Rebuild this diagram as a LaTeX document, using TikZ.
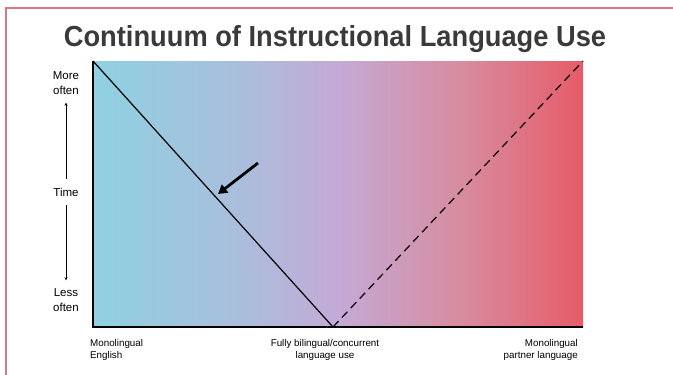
\documentclass[tikz,border=0pt]{standalone}
\usepackage{fontspec}
\setmainfont{Liberation Sans}
\usetikzlibrary{arrows.meta, positioning}
\definecolor{framered}{HTML}{DC7880}
\definecolor{titlegray}{HTML}{3A3A3A}
\pgfdeclarehorizontalshading{continuum}{100bp}{
  color(0bp)=(rgb,255:red,143;green,209;blue,225);
  color(25bp)=(rgb,255:red,143;green,209;blue,225);
  color(40bp)=(rgb,255:red,170;green,190;blue,220);
  color(50bp)=(rgb,255:red,196;green,170;blue,214);
  color(62.5bp)=(rgb,255:red,215;green,140;blue,160);
  color(75bp)=(rgb,255:red,230;green,92;blue,104);
  color(100bp)=(rgb,255:red,230;green,92;blue,104)}
\tikzset{axislabel/.style={align=center,inner sep=1pt,font=\fontsize{11.5}{15}\selectfont},
  endlabel/.style={inner sep=0pt,font=\fontsize{9.8}{12}\selectfont},
  timeline/.style={-{Stealth[length=3pt,width=3pt]},semithick,shorten <=8pt,shorten >=7pt}}

\begin{document}
\begin{tikzpicture}[x=1pt,y=-1pt]
\useasboundingbox (0,0) rectangle (673,375);
% frame
\draw[framered,line width=1.2pt] (6,375) -- (6,8) -- (673,8);
\node[font=\bfseries\fontsize{29}{32}\selectfont,text=titlegray] (title) at (335,39) {\scalebox{0.94}[1]{Continuum of Instructional Language Use}};
% plot area
\coordinate (tl) at (93,61);
\coordinate (bl) at (93,327);
\coordinate (mid) at (333,327);
\coordinate (br) at (583,327);
\coordinate (tr) at (583,61);
\shade[shading=continuum] (tl) rectangle (br);
\draw[line width=1.6pt] (tl) -- (bl) -- (br);
\draw[line width=1.2pt] (tl) -- (mid);
\draw[line width=1.2pt,dash pattern=on 8pt off 5pt] (mid) -- (tr);
% pointer
\coordinate (ptail) at (258,163);
\coordinate (phead) at (218,194);
\draw[line width=2.8pt,-{Triangle[length=9pt,width=10pt]}] (ptail) -- (phead);
% time axis
\node[axislabel] (time) at (66,192) {Time};
\node[axislabel] (more) at (66,83) {More\\often};
\node[axislabel] (less) at (66,300) {Less\\often};
\draw[timeline] (time) -- (more);
\draw[timeline] (time) -- (less);
% continuum ends
\node[endlabel,align=left,anchor=north west] (eng) at (90,339) {Monolingual\\English};
\node[endlabel,align=center,anchor=north] (both) at (325,339) {Fully bilingual/concurrent\\language use};
\node[endlabel,align=right,anchor=north east] (partner) at (578,339) {Monolingual\\partner language};
\end{tikzpicture}
\end{document}
